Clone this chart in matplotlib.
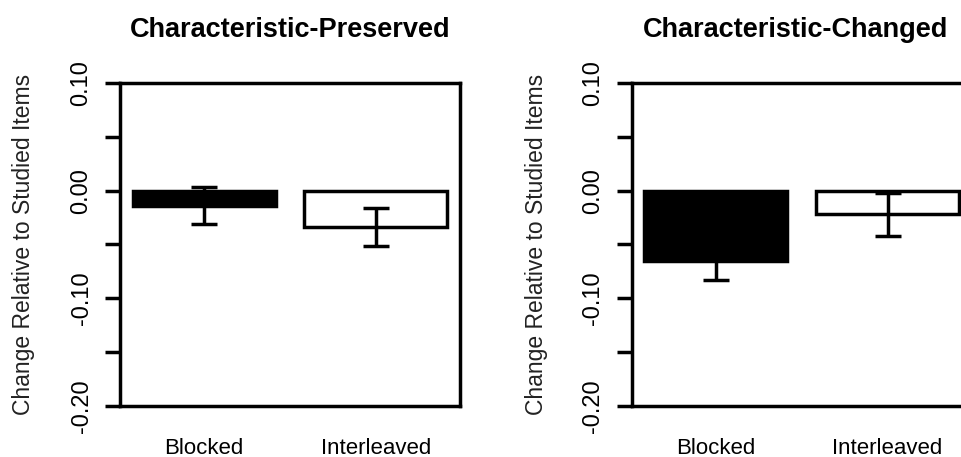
import numpy as np
import matplotlib
matplotlib.use("Agg")
import matplotlib.pyplot as plt

plt.rcParams['font.family'] = ['Liberation Sans', 'DejaVu Sans']

# data
conditions = ["Blocked", "Interleaved"]
panel_titles = ["Characteristic-Preserved", "Characteristic-Changed"]
preserved_means = [-0.014, -0.034]
preserved_se = [0.017, 0.0175]
changed_means = [-0.065, -0.022]
changed_se = [0.018, 0.020]
bar_colors = ["black", "white"]

yticks = [0.10, 0.05, 0.00, -0.05, -0.10, -0.15, -0.20]
ytick_labels = ["0.10", "", "0.00", "", "-0.10", "", "-0.20"]

lw = 2.5  # thick lines like the R plot

fig = plt.figure(figsize=(9.61, 4.57), dpi=100)
ax_left = fig.add_axes([0.1249, 0.1116, 0.3538, 0.7068])
ax_right = fig.add_axes([0.6573, 0.1116, 0.3538, 0.7068])

# barplot positions like R: space 0.2, width 1
x = np.array([0.7, 1.9])

panels = [(ax_left, preserved_means, preserved_se, panel_titles[0], 0.5),
          (ax_right, changed_means, changed_se, panel_titles[1], 0.483)]

for ax, means, se, title, tx in panels:
    ax.bar(x, means, width=1.0, color=bar_colors, edgecolor="black", linewidth=lw)
    ax.errorbar(x, means, yerr=se, fmt='none', ecolor='black',
                elinewidth=lw, capsize=9.7, capthick=lw)
    ax.set_xlim(0.112, 2.488)
    ax.set_ylim(-0.20, 0.10)
    ax.set_yticks(yticks)
    ax.set_yticklabels(ytick_labels, rotation=90, va='center')
    ax.set_xticks(x)
    ax.set_xticklabels(conditions)
    ax.tick_params(axis='y', length=10.8, width=lw, pad=9, labelsize=17)
    ax.tick_params(axis='x', length=0, pad=23, labelsize=16)
    for s in ax.spines.values():
        s.set_linewidth(lw)
    ax.set_title(title, fontsize=19.5, fontweight='bold', pad=33, x=tx)

# y labels drawn at figure level
fig.text(24 / 961, 0.465, "Change Relative to Studied Items", rotation=90,
         ha='center', va='center', fontsize=16.5, color='#222222')
fig.text(537 / 961, 0.465, "Change Relative to Studied Items", rotation=90,
         ha='center', va='center', fontsize=16.5, color='#222222')

fig.savefig("out.png", dpi=100)
